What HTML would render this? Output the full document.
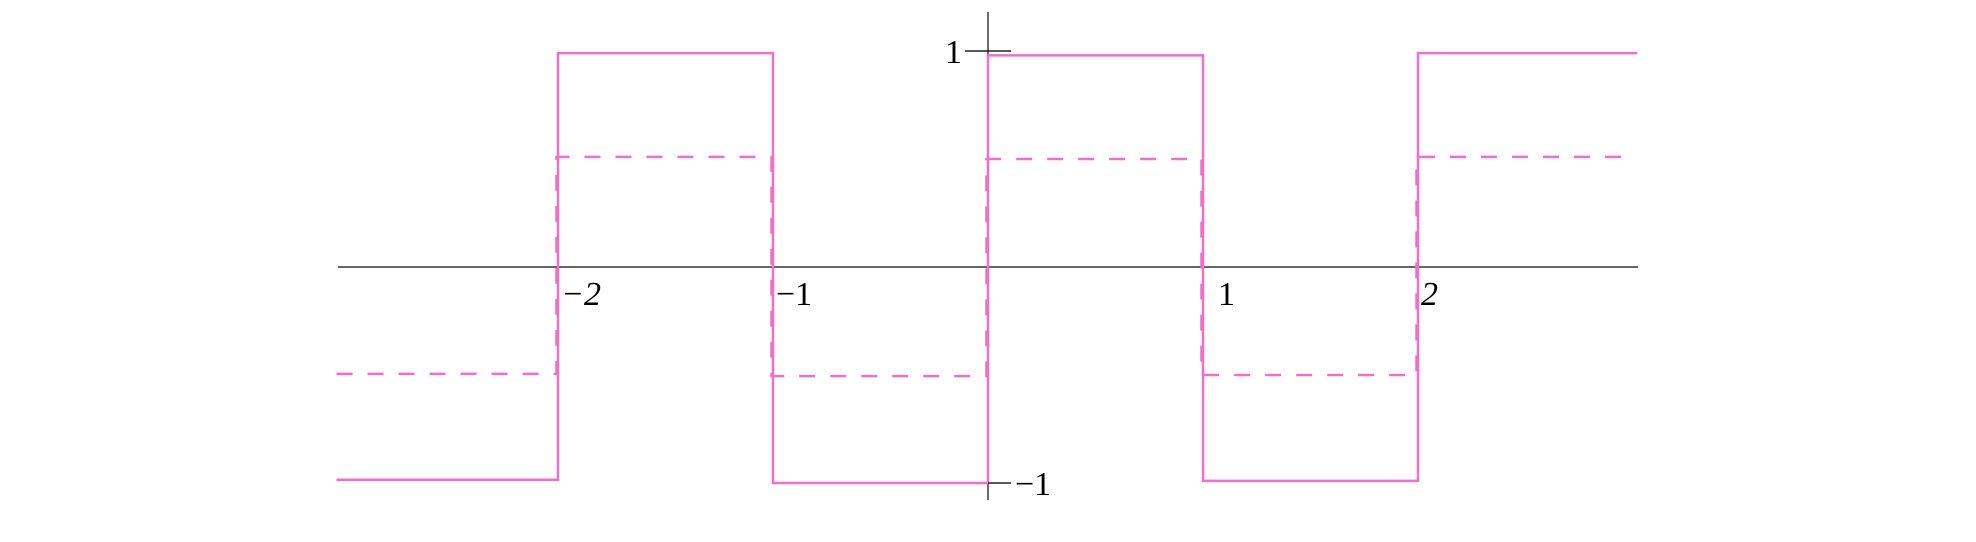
<!DOCTYPE html>
<html><head><meta charset="utf-8"><style>
html,body{margin:0;padding:0;background:#fff;}
svg{display:block;}
</style></head><body>
<svg id="chart" width="1976" height="542" viewBox="0 0 1976 542" xmlns="http://www.w3.org/2000/svg"></svg>
<script>
const breaks = [-3.03, -2, -1, 0, 1, 2, 3.02];
const solidValues = [-0.985, 0.99, -1.0, 0.98, -0.99, 0.99];
const dashedValues = [-0.495, 0.51, -0.505, 0.5, -0.5, 0.51];
const xTickValues = [-2, -1, 1, 2];
const xTickLabels = ["\u22122", "\u22121", "1", "2"];
const xTickItalic = [true, false, false, true];
const yTickValues = [1, -1];
const yTickLabels = ["1", "\u22121"];

const svg = document.getElementById('chart');
const NS = 'http://www.w3.org/2000/svg';
const X0 = 988, XS = 215, Y0 = 267, YS = 216;
const sx = v => X0 + v * XS;
const sy = v => Y0 - v * YS;
function mk(tag, attrs) {
  const e = document.createElementNS(NS, tag);
  for (const k in attrs) e.setAttribute(k, attrs[k]);
  svg.appendChild(e);
  return e;
}
const pink = '#f06fc9';
const FONT = '"Liberation Serif", "Times New Roman", serif';

// axes
let ax = mk('line', {x1: 338, y1: Y0, x2: 1638, y2: Y0, stroke: '#333', 'stroke-width': 1.6});


let ay = mk('line', {x1: X0, y1: 12, x2: X0, y2: 500, stroke: '#444', 'stroke-width': 1.6});



// dashed series
let dpts = [];
for (let i = 0; i < dashedValues.length; i++) {
  const xa = sx(breaks[i]) - (i > 0 ? 1.5 : 0), xb = sx(breaks[i + 1]) - 1.5;
  dpts.push(xa + ',' + sy(dashedValues[i]), xb + ',' + sy(dashedValues[i]));
}
let dl = mk('polyline', {points: dpts.join(' '), fill: 'none', stroke: pink, 'stroke-width': 2.5, 'stroke-dasharray': '16 15'});



// solid series
let spts = [];
for (let i = 0; i < solidValues.length; i++) {
  spts.push(sx(breaks[i]) + ',' + sy(solidValues[i]), sx(breaks[i + 1]) + ',' + sy(solidValues[i]));
}
let sl = mk('polyline', {points: spts.join(' '), fill: 'none', stroke: pink, 'stroke-width': 2.5});



// x tick labels
xTickValues.forEach((v, i) => {
  const t = mk('text', {x: sx(v) + (v === 1 ? 15 : 3), y: Y0 + 38, 'font-size': 34, 'font-family': FONT, fill: '#000'});
  if (xTickItalic[i]) t.setAttribute('font-style', 'italic');
  t.textContent = xTickLabels[i];
  
  
});

// y ticks
yTickValues.forEach((v, i) => {
  const y = sy(v);
  const tk = mk('line', {x1: v > 0 ? X0 - 23 : X0, y1: y, x2: X0 + 23, y2: y, stroke: '#222', 'stroke-width': 1.4});
  
  
  const t = mk('text', {x: v > 0 ? X0 - 26 : X0 + 27, y: y + 12, 'text-anchor': v > 0 ? 'end' : 'start', 'font-size': 34, 'font-family': FONT, fill: '#000'});
  t.textContent = yTickLabels[i];
  
  
});
</script>
</body></html>
